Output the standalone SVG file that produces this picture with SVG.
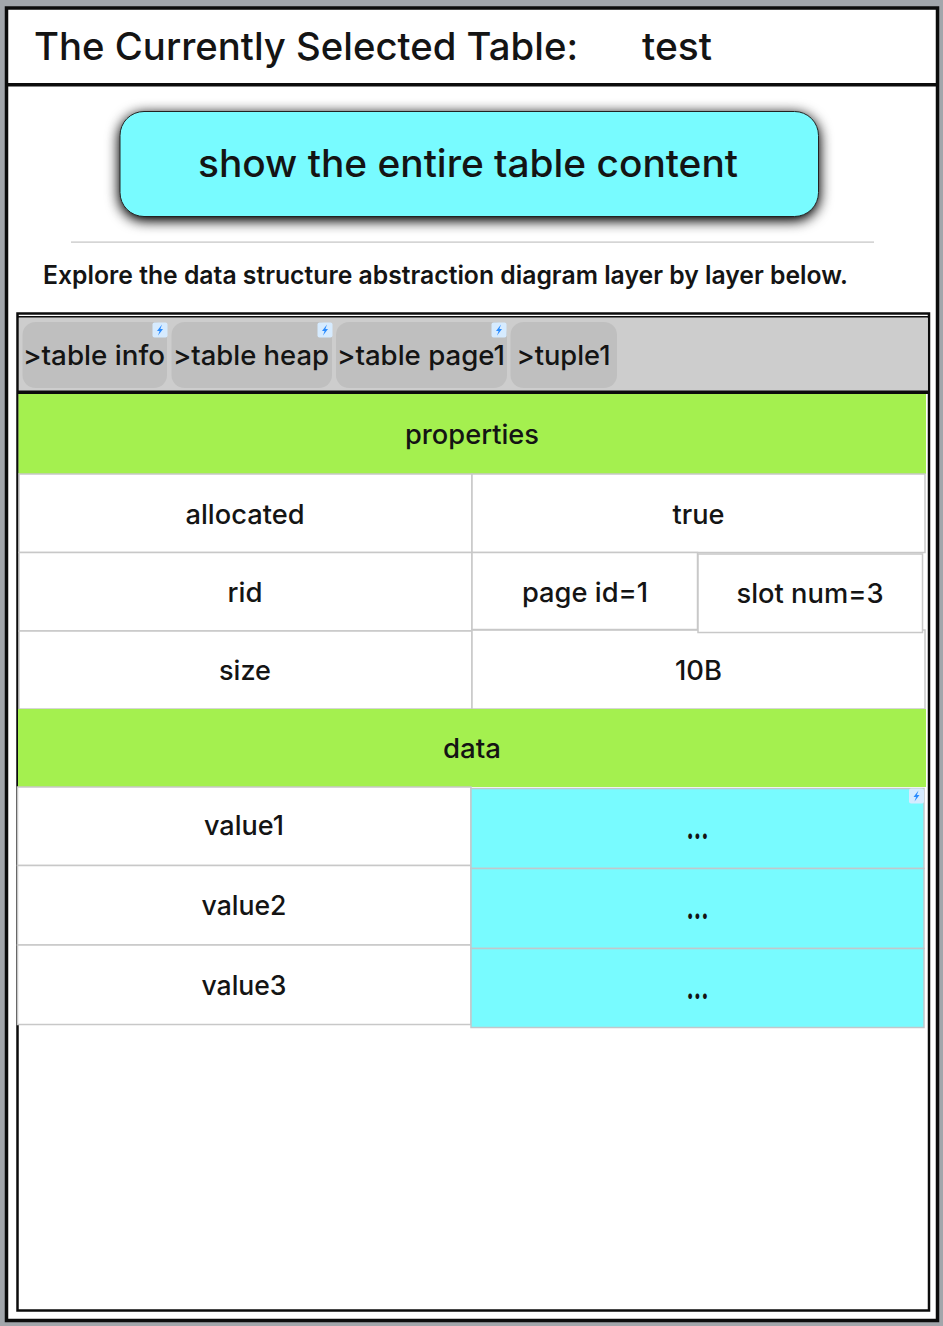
<svg xmlns="http://www.w3.org/2000/svg" width="943" height="1326" viewBox="0 0 943 1326">
<style>
text{font-family:"Inter","Liberation Sans",sans-serif;fill:#141414;text-anchor:middle;font-weight:500}
.cell{font-size:27px}
.tab{font-size:27px}
.dots{font-size:30px;font-weight:800}
.w{fill:#fff;stroke:#c8c8c8;stroke-width:1.5}
.g{fill:#a4f04f}
.c{fill:#78fbff;stroke:#c0c8cc;stroke-width:1.5}
.t{fill:#bfbfbf}
.b{fill:#d6ebff}
.l{fill:#2b8cff}
</style>
<defs>
<filter id="sh" x="-10%" y="-30%" width="120%" height="170%"><feGaussianBlur in="SourceAlpha" stdDeviation="7"/><feOffset dy="3"/><feComponentTransfer><feFuncA type="linear" slope="1.2"/></feComponentTransfer><feMerge><feMergeNode/><feMergeNode in="SourceGraphic"/></feMerge></filter>
<g id="bolt"><rect class="b" x="-7.500" y="-7.500" width="15" height="15" rx="2"/><path class="l" d="M2-5.500-3 1H-0.400L-2 5.500 3-1H0.400Z"/></g>
</defs>
<rect width="943" height="1326" fill="#a2a6ab"/>
<rect x="6.500" y="8" width="931" height="1312.500" fill="#fff" stroke="#0c0c0c" stroke-width="3.500"/>
<g id="header"><rect x="6" y="83" width="932" height="3.500" fill="#0c0c0c"/>
<text x="34" y="60" style="text-anchor:start;font-size:38px" textLength="544" lengthAdjust="spacingAndGlyphs">The Currently Selected Table:</text>
<text x="642" y="60" style="text-anchor:start;font-size:38px" textLength="70" lengthAdjust="spacingAndGlyphs">test</text></g>
<g id="button"><rect x="120" y="111.500" width="698.500" height="105" rx="24" fill="#78fbff" stroke="#222" stroke-width="1" filter="url(#sh)"/>
<text x="468" y="177" style="font-size:38px" textLength="540" lengthAdjust="spacingAndGlyphs">show the entire table content</text></g>
<rect x="71" y="241.500" width="803" height="1.200" fill="#c4c4c4"/>
<text id="hint" x="43" y="284" style="text-anchor:start;font-size:25px;font-weight:600" textLength="805" lengthAdjust="spacingAndGlyphs">Explore the data structure abstraction diagram layer by layer below.</text>
<g id="panel"><rect x="17.500" y="313.500" width="911.500" height="997" fill="#fff" stroke="#0c0c0c" stroke-width="2.500"/>
<rect x="19" y="318" width="908.500" height="73" fill="#cdcdcd"/>
<rect x="17" y="316" width="912" height="1.600" fill="#0c0c0c"/><rect x="17" y="390.500" width="912" height="3.500" fill="#0c0c0c"/></g>
<g id="tab1"><rect class="t" x="22.500" y="322" width="144.500" height="66" rx="13"/><text class="tab" x="94" y="365" textLength="142" lengthAdjust="spacingAndGlyphs">&gt;table info</text><use href="#bolt" x="160" y="330"/></g>
<g id="tab2"><rect class="t" x="171.500" y="322" width="160.500" height="66" rx="13"/><text class="tab" x="251" y="365" textLength="156" lengthAdjust="spacingAndGlyphs">&gt;table heap</text><use href="#bolt" x="325" y="330"/></g>
<g id="tab3"><rect class="t" x="336" y="322" width="171" height="66" rx="13"/><text class="tab" x="421" y="365" textLength="168" lengthAdjust="spacingAndGlyphs">&gt;table page1</text><use href="#bolt" x="499" y="330"/></g>
<g id="tab4"><rect class="t" x="510.500" y="322" width="106.500" height="66" rx="13"/><text class="tab" x="563.500" y="365" textLength="94" lengthAdjust="spacingAndGlyphs">&gt;tuple1</text></g>
<g id="properties"><rect class="g" x="18.500" y="394" width="907.500" height="80"/><text class="cell" x="472" y="444" textLength="134" lengthAdjust="spacingAndGlyphs">properties</text></g>
<g id="allocated"><rect class="w" x="19" y="474" width="453" height="78.500"/><text class="cell" x="245" y="523.500" textLength="119" lengthAdjust="spacingAndGlyphs">allocated</text></g>
<g id="allocated-value"><rect class="w" x="472" y="474" width="453" height="78.500"/><text class="cell" x="698.500" y="523.500" textLength="52" lengthAdjust="spacingAndGlyphs">true</text></g>
<g id="rid"><rect class="w" x="19" y="552.500" width="453" height="78.500"/><text class="cell" x="245" y="601.500" textLength="35" lengthAdjust="spacingAndGlyphs">rid</text></g>
<g id="size"><rect class="w" x="19" y="631" width="453" height="78"/><text class="cell" x="245" y="679.500" textLength="52" lengthAdjust="spacingAndGlyphs">size</text></g>
<g id="size-value"><rect class="w" x="472" y="630" width="453" height="79"/><text class="cell" x="698.500" y="679.500" textLength="47" lengthAdjust="spacingAndGlyphs">10B</text></g>
<g id="page-id"><rect class="w" x="472" y="552.500" width="225.500" height="77"/><text class="cell" x="585" y="602" textLength="126" lengthAdjust="spacingAndGlyphs">page id=1</text></g>
<g id="slot-num"><rect class="w" x="698" y="554" width="224.500" height="78.500"/><text class="cell" x="810" y="603" textLength="147" lengthAdjust="spacingAndGlyphs">slot num=3</text></g>
<g id="data"><rect class="g" x="18" y="709" width="908" height="78"/><text class="cell" x="472" y="758" textLength="58" lengthAdjust="spacingAndGlyphs">data</text></g>
<g id="value1"><rect class="w" x="17.500" y="787" width="453.500" height="78.500"/><text class="cell" x="244" y="835" textLength="80" lengthAdjust="spacingAndGlyphs">value1</text></g>
<g id="value2"><rect class="w" x="17.500" y="865.500" width="453.500" height="79.500"/><text class="cell" x="244" y="915" textLength="85" lengthAdjust="spacingAndGlyphs">value2</text></g>
<g id="value3"><rect class="w" x="17.500" y="945" width="453.500" height="79.500"/><text class="cell" x="244" y="995" textLength="85" lengthAdjust="spacingAndGlyphs">value3</text></g>
<g id="value1-cell"><rect class="c" x="471" y="788.500" width="453" height="80"/><text class="dots" x="697.500" y="838.500" textLength="22" lengthAdjust="spacingAndGlyphs">...</text><use href="#bolt" x="916.500" y="796"/></g>
<g id="value2-cell"><rect class="c" x="471" y="868.500" width="453" height="80"/><text class="dots" x="697.500" y="918.500" textLength="22" lengthAdjust="spacingAndGlyphs">...</text></g>
<g id="value3-cell"><rect class="c" x="471" y="948.500" width="453" height="79"/><text class="dots" x="697.500" y="998.500" textLength="22" lengthAdjust="spacingAndGlyphs">...</text></g>
</svg>
